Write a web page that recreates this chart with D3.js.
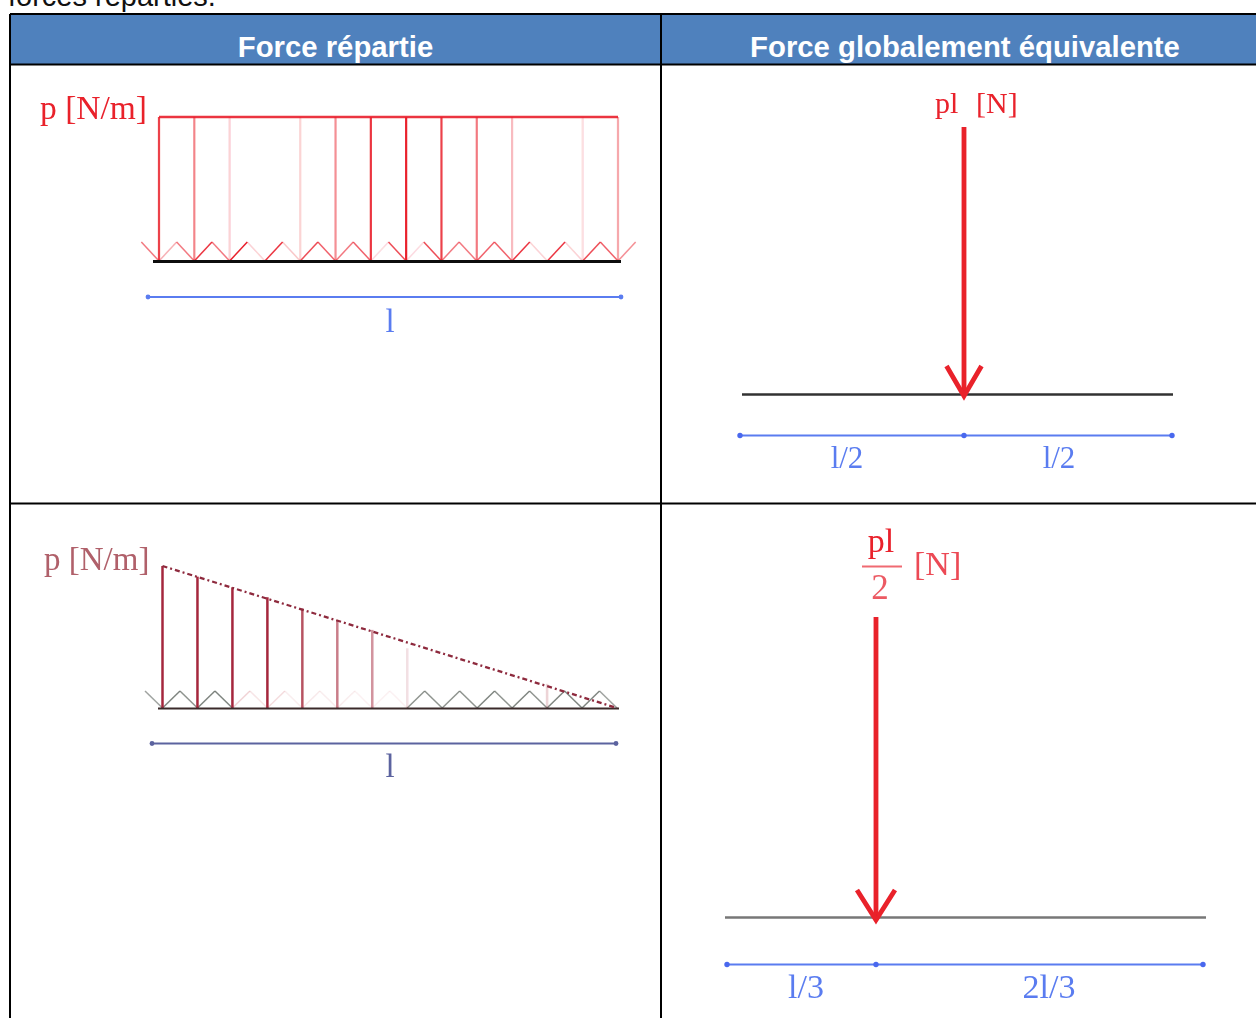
<!DOCTYPE html>
<html><head><meta charset="utf-8">
<script src="https://cdn.jsdelivr.net/npm/d3@7"></script>
<style>html,body{margin:0;padding:0;background:#fff;overflow:hidden}svg{display:block}</style>
</head><body><div id="c"></div>
<script>
const introText = "forces réparties.";
const headers = ["Force répartie", "Force globalement équivalente"];

// Sampled load arrows: tick index along the span (0..13)
const uniformTicks   = [0,1,2,4,5,6,7,8,9,10,12,13];
const uniformInk     = [.85,.55,.2,.2,.5,.9,1,.85,.6,.3,.15,.4];
const uniformLoad    = [1,1,1,1,1,1,1,1,1,1,1,1];
const uniformRiseInk = [.35,.9,1,.9,.8,.6,.15,.15,.6,.7,.9,.9,.8];
const uniformFallInk = [.6,.6,.2,.25,.7,.7,.8,.8,.6,.7,.2,.2,.7];

const triangleTicks  = [0,1,2,3,4,5,6,7,11];
const triangleInk    = [1,1,1,1,.8,.6,.5,.15,.2];
const triangleLoad   = [1,.925,.85,.78,.70,.62,.55,.42,.17];
const triangleRiseInk= [.8,.8,.25,.2,.12,.1,.08,.7,.7,.8,.8,.8,.8];
const triangleFallInk= [.7,.8,.15,.1,.1,.08,.08,.7,.7,.7,.7,.8,.6];

const forces = [0.5185, 0.313];
const dimLabels1 = ["l/2","l/2"];
const dimLabels2 = ["l/3","2l/3"];

const W=1256,H=1018;
const svg=d3.select("#c").append("svg").attr("width",W).attr("height",H);
const defs=svg.append("defs");
defs.append("filter").attr("id","soft").attr("x","-5%").attr("y","-5%").attr("width","110%").attr("height","110%")
  .append("feGaussianBlur").attr("stdDeviation",0.7);

const serif="'Liberation Serif',serif", sans="'Liberation Sans',Arial,sans-serif";
const RED="#e9202c", BLUE="#5a7cf0";

// table
svg.append("rect").attr("x",10).attr("y",15).attr("width",1246).attr("height",49).attr("fill","#4f81bd");
const grid=[[10,14,1256,14],[10,64.5,1256,64.5],[10,503.5,1256,503.5],[10,14,10,1018],[661,14,661,1018]];
svg.selectAll("line.grid").data(grid).join("line").attr("class","grid")
  .attr("x1",d=>d[0]).attr("y1",d=>d[1]).attr("x2",d=>d[2]).attr("y2",d=>d[3])
  .attr("stroke","#000").attr("stroke-width",2);
svg.append("text").attr("x",8).attr("y",6).attr("font-family",sans).attr("font-size",29).attr("fill","#111").text(introText);
svg.selectAll("text.h").data(headers).join("text").attr("class","h")
  .attr("x",(d,i)=>i?965:335.5).attr("y",57).attr("text-anchor","middle")
  .attr("font-family",sans).attr("font-weight","bold").attr("font-size",29.3).attr("fill","#fff").text(d=>d);

const art=svg.append("g").attr("filter","url(#soft)");

function txt(x,y,s,size,fill,anchor="middle"){
  art.append("text").attr("x",x).attr("y",y).attr("text-anchor",anchor)
    .attr("font-family",serif).attr("font-size",size).attr("fill",fill).text(s);
}
function seg(x1,y1,x2,y2,stroke,w,op=1){
  art.append("line").attr("x1",x1).attr("y1",y1).attr("x2",x2).attr("y2",y2)
    .attr("stroke",stroke).attr("stroke-width",w).attr("stroke-opacity",op);
}

function loadPanel(o){
  const x=d3.scaleLinear().domain([0,13]).range(o.xr);
  const y=d3.scaleLinear().domain([0,1]).range(o.yr);
  const peak=o.peakY;
  o.rise.forEach((op,i)=>{
    seg(x(i),o.yr[0],x(i+.5),peak,o.hatch(i),1.5,op);
    seg(x(i+.5),peak,x(i+1),o.yr[0],o.hatch(i),1.5,o.fall[i]);
  });
  seg(x(-.5),peak,x(0),o.yr[0],o.hatch(0),1.5,.6);
  if(o.rightStub) seg(x(13),o.yr[0],x(13.5),peak,o.hatch(12),1.5,.5);
  art.selectAll(null).data(o.ticks).enter().append("line")
    .attr("x1",d=>x(d)).attr("x2",d=>x(d)).attr("y1",o.yr[0])
    .attr("y2",(d,i)=>y(o.load[i])).attr("stroke",o.color).attr("stroke-width",o.sw)
    .attr("stroke-opacity",(d,i)=>o.ink[i]);
  seg(o.beam[0],o.yr[0]+.5,o.beam[1],o.yr[0]+.5,o.beamColor,o.beamW);
  seg(o.dim[0],o.dim[2],o.dim[1],o.dim[2],o.dimColor,o.dimW);
  [o.dim[0],o.dim[1]].forEach(v=>art.append("circle").attr("cx",v).attr("cy",o.dim[2]).attr("r",2.4).attr("fill",o.dimColor));
  return {x,y};
}

// top-left panel
const p1=loadPanel({xr:[159,618],yr:[261,117],peakY:242,ticks:uniformTicks,load:uniformLoad,ink:uniformInk,
  rise:uniformRiseInk,fall:uniformFallInk,hatch:()=>RED,color:RED,sw:2.2,rightStub:true,
  beam:[153,621],beamColor:"#111",beamW:3,dim:[148,621,297],dimColor:BLUE,dimW:2.2});
seg(p1.x(0),p1.y(1),p1.x(13),p1.y(1),RED,2.4,.9);
txt(40,119,"p [N/m]",33.5,RED,"start");
txt(390,332,"l",33,BLUE);

// bottom-left panel
const hatchTri=i=>(i>=2&&i<=6)?"#c8505a":"#5f6660";
const DARK="#a5283c";
const p3=loadPanel({xr:[162.5,617],yr:[708,566],peakY:691,ticks:triangleTicks,load:triangleLoad,ink:triangleInk,
  rise:triangleRiseInk,fall:triangleFallInk,hatch:hatchTri,color:DARK,sw:2.5,rightStub:false,
  beam:[158,619],beamColor:"#3a2a2c",beamW:2.2,dim:[152,616,743.5],dimColor:"#5b639f",dimW:2.2});
art.append("line").attr("x1",p3.x(0)).attr("y1",p3.y(1)).attr("x2",p3.x(13)).attr("y2",p3.y(0))
  .attr("stroke","#8e2a3e").attr("stroke-width",2.3).attr("stroke-dasharray","5 3 2 3");
txt(44,570,"p [N/m]",33,"#b0606a","start");
txt(390,777,"l",33,"#5b639f");

function forcePanel(o){
  const x=d3.scaleLinear().domain([0,1]).range(o.span);
  const fx=x(o.force);
  seg(o.beam[0],o.beamY,o.beam[1],o.beamY,o.beamColor,2.6);
  seg(fx,o.top,fx,o.tip-3,RED,4.8);
  art.append("path").attr("d",d3.line()([[fx-o.hw,o.tip-31],[fx,o.tip-1],[fx+o.hw,o.tip-31]]))
    .attr("fill","none").attr("stroke",RED).attr("stroke-width",4.8);
  seg(o.span[0],o.dimY,o.span[1],o.dimY,BLUE,2);
  [0,o.force,1].forEach(v=>art.append("circle").attr("cx",x(v)).attr("cy",o.dimY).attr("r",2.7).attr("fill","#4a68ee"));
  txt(o.lx[0],o.ly,o.labels[0],o.ls,BLUE);
  txt(o.lx[1],o.ly,o.labels[1],o.ls,BLUE);
}
forcePanel({span:[740,1172],force:forces[0],beam:[742,1173],beamY:394.5,beamColor:"#333",top:127,tip:397,hw:17.5,
  dimY:435.5,lx:[847,1059],ly:468,ls:31,labels:dimLabels1});
txt(935,113,"pl",30,RED,"start");
txt(976,113,"[N]",30,RED,"start");

forcePanel({span:[727,1203],force:forces[1],beam:[725,1206],beamY:917.5,beamColor:"#777",top:617,tip:921,hw:19,
  dimY:964.5,lx:[806,1049],ly:998,ls:34,labels:dimLabels2});
txt(881,552,"pl",34,RED);
seg(862,566.5,902,566.5,"#f06a72",1.8);
txt(880,599,"2",35,"#ec5a64");
txt(914,575,"[N]",34,"#ec4a55","start");
</script></body></html>
